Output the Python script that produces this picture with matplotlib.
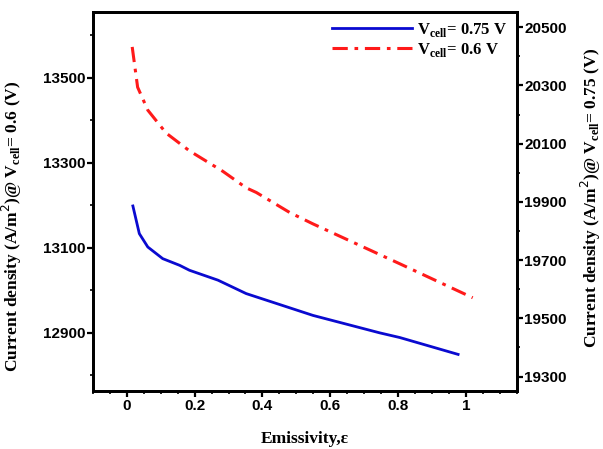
import matplotlib
matplotlib.use('Agg')
import matplotlib.pyplot as plt
from matplotlib.ticker import MultipleLocator

# emissivity sweep and current densities at the two cell voltages
eps_06 = [0.016, 0.032, 0.062, 0.116, 0.185, 0.283, 0.352, 0.382, 0.48, 0.549, 0.756, 0.805, 1.02]
j_06 = [13573, 13478, 13424, 13370, 13328, 13280, 13241, 13230, 13183, 13156, 13080, 13062, 12982]

eps_075 = [0.018, 0.037, 0.062, 0.106, 0.156, 0.185, 0.269, 0.352, 0.549, 0.746, 0.805, 0.977]
j_075 = [19886, 19791, 19745, 19705, 19682, 19665, 19631, 19585, 19510, 19450, 19434, 19376]

x_ticks = [0, 0.2, 0.4, 0.6, 0.8, 1]
x_tick_labels = ['0', '0.2', '0.4', '0.6', '0.8', '1']

serif = 'Liberation Serif'
sans = 'Liberation Sans'

fig = plt.figure(figsize=(6.03, 4.49), dpi=100)
ax = fig.add_axes([0.154, 0.129, 0.703, 0.844])
ax2 = ax.twinx()

l2, = ax.plot(eps_06, j_06, color='#ff1a1a', lw=2.2, ls=(0, (5, 2.2, 1.2, 2.2)))
l1, = ax2.plot(eps_075, j_075, color='#0a0ad0', lw=2.0)

ax.set_xlim(-0.1, 1.15)
ax.set_ylim(12762, 13655)
ax2.set_ylim(19250, 20552)

ax.set_xticks(x_ticks)
ax.set_xticklabels(x_tick_labels)
ax.xaxis.set_minor_locator(MultipleLocator(0.05))
ax.set_yticks([12900, 13100, 13300, 13500])
ax.yaxis.set_minor_locator(MultipleLocator(100))
ax2.set_yticks([19300, 19500, 19700, 19900, 20100, 20300, 20500])
ax2.yaxis.set_minor_locator(MultipleLocator(100))

for a in (ax, ax2):
    for s in a.spines.values():
        s.set_linewidth(2)
    a.tick_params(which='major', length=4, width=1.6, labelsize=11, pad=1.5)
    a.tick_params(which='minor', length=2.5, width=1.2)
    for lab in a.get_xticklabels() + a.get_yticklabels():
        lab.set_family(sans)
        lab.set_fontweight('bold')

ax.set_xlabel('Emissivity,\u03b5', family=serif, fontweight='bold', fontsize=12.5, labelpad=13)
ax.set_ylabel('Current density (A/m$^2$)@ V$_{\\mathregular{cell}}$= 0.6 (V)',
              family=serif, fontweight='bold', fontsize=12.5)
ax.yaxis.set_label_coords(-0.163, 0.435)
ax2.set_ylabel('Current density (A/m$^2$)@ V$_{\\mathregular{cell}}$= 0.75 (V)',
               family=serif, fontweight='bold', fontsize=12.5)
ax2.yaxis.set_label_coords(1.146, 0.51)

leg = ax.legend([l1, l2], ['V$_{\\mathregular{cell}}$= 0.75 V', 'V$_{\\mathregular{cell}}$= 0.6 V'],
                loc='upper right', frameon=False, handlelength=4.8, handletextpad=0.3,
                borderaxespad=0.15, labelspacing=0.1,
                prop={'family': serif, 'weight': 'bold', 'size': 12})

fig.savefig('out.png', dpi=100)
